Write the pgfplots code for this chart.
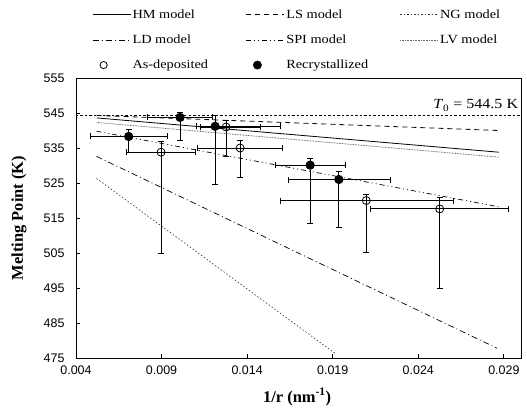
\documentclass[border=0pt]{standalone}
\usepackage{fontspec}
\setmainfont{Liberation Serif}
\newfontfamily\sansarial{Liberation Sans}
\newfontfamily\legfont[FakeStretch=1.15]{Liberation Serif}
\usepackage{pgfplots}
\pgfplotsset{compat=1.18}
\begin{document}
\begin{tikzpicture}
\path[use as bounding box] (-76bp,-58bp) rectangle (451bp,358bp);
\begin{axis}[
  scale only axis, width=445bp, height=280bp,
  xmin=0.004, xmax=0.030, ymin=475, ymax=555,
  axis line style={line width=0.9bp},
  tick style={line width=0.8bp, black},
  tick align=inside, major tick length=4.5bp,
  xtick pos=bottom, ytick pos=left,
  xtick={0.004,0.009,0.014,0.019,0.024,0.029},
  ytick={475,485,495,505,515,525,535,545,555},
  scaled x ticks=false,
  /pgf/number format/assume math mode=true,
  ticklabel style={font=\sansarial\fontsize{12.5}{14}\selectfont},
  xticklabel style={yshift=-4bp, /pgf/number format/.cd, fixed, fixed zerofill, precision=3},
  yticklabel style={xshift=-8bp},
  every axis y label/.style={at={(axis description cs:-0.128,0.5)},rotate=90,anchor=center},
  every axis x label/.style={at={(axis description cs:0.497,-0.139)},anchor=center},
  ylabel={\fontsize{16.5}{18}\selectfont\bfseries Melting Point (K)},
  xlabel={\fontsize{16.5}{18}\selectfont\bfseries 1/r (nm\textsuperscript{-1})},
  legend columns=3,
  legend style={at={(axis description cs:0.036,1.25)}, anchor=north west, draw=none, fill=none,
    inner sep=0pt, font=\legfont\fontsize{12.5}{14}\selectfont,
    nodes={inner sep=1.5bp}, row sep=12bp, column sep=0pt},
  legend cell align=left,
]
% HM, LS, NG, LD, SPI, LV model curves
\addplot[black, line width=0.8bp, forget plot] coordinates {(0.0052,543.6) (0.0287,533.8)};
\addplot[black, line width=0.8bp, dash pattern=on 5bp off 4bp, forget plot] coordinates {(0.0052,544.3) (0.0287,540.0)};
\addplot[black!80, line width=0.6bp, dash pattern=on 1.5bp off 2bp, forget plot] coordinates {(0.0052,526.3) (0.0192,476.1)};
\addplot[black, line width=0.7bp, dash pattern=on 6bp off 3bp on 1bp off 3bp, forget plot] coordinates {(0.0052,532.6) (0.0286,477.8)};
\addplot[black, line width=0.7bp, dash pattern=on 5bp off 3bp on 1bp off 3bp on 1bp off 3bp, forget plot] coordinates {(0.0052,539.8) (0.0287,518.2)};
\addplot[black!60, line width=0.8bp, dash pattern=on 0.8bp off 0.8bp, forget plot] coordinates {(0.0052,542.3) (0.0287,532.4)};
% T0 line
\addplot[black, line width=0.5bp, dash pattern=on 2.5bp off 2bp, forget plot] coordinates {(0.004,544.5) (0.030,544.5)};
% As-deposited
\addplot[black, only marks, mark=o, mark size=4bp, line width=0.8bp, forget plot,
  error bars/.cd, x dir=both, x explicit, y dir=both, y explicit,
  error bar style={line width=0.9bp, black},
  error mark options={rotate=90, mark size=3bp, line width=0.9bp}]
  coordinates {
  (0.00897,533.8) += (0.00203,3.1) -= (0.00205,28.9)
  (0.01277,541.0) += (0.0020,2.0) -= (0.0015,8.4)
  (0.01359,535.0) += (0.0025,2.1) -= (0.0025,8.3)
  (0.02096,520.0) += (0.00507,1.7) -= (0.00499,14.9)
  (0.02525,517.6) += (0.00403,3.4) -= (0.00405,22.7)
  };
% Recrystallized
\addplot[black, only marks, mark=*, mark size=4.2bp, line width=0.8bp, forget plot,
  error bars/.cd, x dir=both, x explicit, y dir=both, y explicit,
  error bar style={line width=0.9bp, black},
  error mark options={rotate=90, mark size=3bp, line width=0.9bp}]
  coordinates {
  (0.00708,538.3) += (0.00226,2.1) -= (0.00224,4.5)
  (0.01008,543.75) += (0.0019,1.55) -= (0.0019,6.65)
  (0.01213,541.2) += (0.0038,3.1) -= (0.0011,16.6)
  (0.01768,530.1) += (0.00205,2.0) -= (0.00204,16.6)
  (0.01936,526.0) += (0.00304,2.3) -= (0.00296,13.8)
  };
\addlegendimage{legend image code/.code={\draw[black, line width=0.8bp] (0bp,0bp) -- (38bp,0bp);}}
\addlegendentry{\makebox[112bp][l]{HM model}}
\addlegendimage{legend image code/.code={\draw[black, line width=0.8bp, dash pattern=on 5bp off 4bp] (0bp,0bp) -- (38bp,0bp);}}
\addlegendentry{\makebox[112bp][l]{LS model}}
\addlegendimage{legend image code/.code={\draw[black!80, line width=0.6bp, dash pattern=on 1.5bp off 2bp] (0bp,0bp) -- (38bp,0bp);}}
\addlegendentry{\makebox[70bp][l]{NG model}}
\addlegendimage{legend image code/.code={\draw[black, line width=0.7bp, dash pattern=on 6bp off 3bp on 1bp off 3bp] (0bp,0bp) -- (38bp,0bp);}}
\addlegendentry{\makebox[112bp][l]{LD model}}
\addlegendimage{legend image code/.code={\draw[black, line width=0.7bp, dash pattern=on 5bp off 3bp on 1bp off 3bp on 1bp off 3bp] (0bp,0bp) -- (38bp,0bp);}}
\addlegendentry{\makebox[112bp][l]{SPI model}}
\addlegendimage{legend image code/.code={\draw[black!60, line width=0.8bp, dash pattern=on 0.8bp off 0.8bp] (0bp,0bp) -- (38bp,0bp);}}
\addlegendentry{\makebox[70bp][l]{LV model}}
\addlegendimage{legend image code/.code={\path[draw=none, fill=none] (0bp,-1bp) rectangle (38bp,1bp); \draw[black, line width=0.8bp] (11bp,0bp) circle (3.6bp);}}
\addlegendentry{\makebox[112bp][l]{As-deposited}}
\addlegendimage{legend image code/.code={\path[draw=none, fill=none] (0bp,-1bp) rectangle (38bp,1bp); \fill[black] (11bp,0bp) circle (4.2bp);}}
\addlegendentry{\makebox[112bp][l]{Recrystallized}}
\node[anchor=south east, inner sep=1bp, font=\legfont\fontsize{14}{16}\selectfont] at (axis cs:0.0299,545.2) {\textit{T}\textsubscript{0} = 544.5 K};
\end{axis}
\end{tikzpicture}
\end{document}
